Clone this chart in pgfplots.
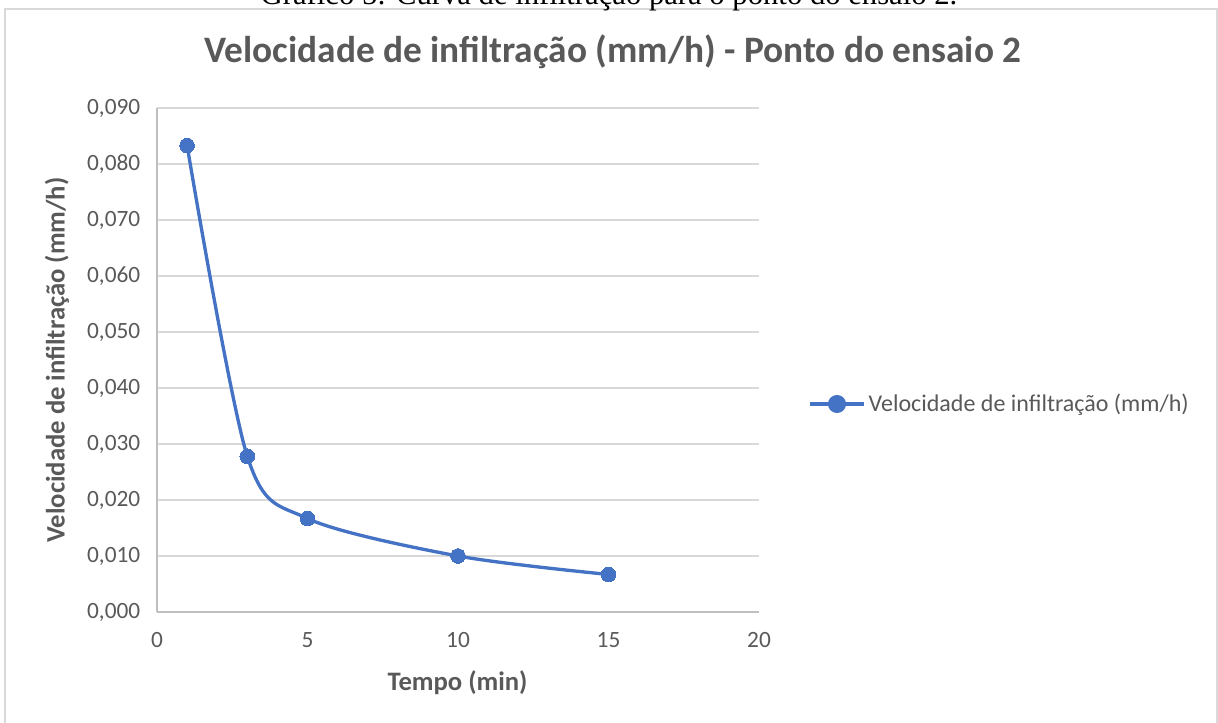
\documentclass[border=0pt]{standalone}
\usepackage{fontspec}
\setmainfont{Carlito}
\newfontfamily\timesfont{Liberation Serif}
\usepackage{pgfplots}
\pgfplotsset{compat=1.18}
\definecolor{txt}{RGB}{89,89,89}
\definecolor{ser}{RGB}{68,114,196}
\definecolor{gridc}{RGB}{217,217,217}
\definecolor{axc}{RGB}{191,191,191}
\definecolor{framec}{RGB}{217,217,217}
\begin{document}
\begin{tikzpicture}
\useasboundingbox (-117.75pt,-82.5pt) rectangle (795.75pt,459pt);
\draw[framec, line width=1.5pt] (-114pt,-100pt) -- (-114pt,452.25pt) -- (795pt,452.25pt) -- (795pt,-100pt);
\node[font=\timesfont\fontsize{23}{27}\selectfont, anchor=base, inner sep=0pt] at (339pt,455.25pt) {Gráfico 5: Curva de infiltração para o ponto do ensaio 2.};
\node[font=\bfseries\fontsize{28}{32}\selectfont, text=txt] at (342pt,420pt) {Velocidade de infiltração (mm/h) - Ponto do ensaio 2};
\begin{axis}[
  at={(0pt,0pt)}, anchor=south west, scale only axis,
  width=451.5pt, height=378pt,
  xmin=0, xmax=20, ymin=0, ymax=0.09,
  xtick={0,5,10,15,20},
  ytick={0,0.01,0.02,0.03,0.04,0.05,0.06,0.07,0.08,0.09},
  axis x line*=bottom, axis y line*=left,
  axis line style={axc, line width=1pt, -},
  major tick length=0pt,
  ymajorgrids, grid style={gridc, line width=1pt},
  tick label style={font=\fontsize{17.5}{21}\selectfont, text=txt},
  xticklabel style={yshift=-12pt},
  yticklabel style={xshift=-9pt},
  /pgf/number format/assume math mode=true,
  yticklabel style={/pgf/number format/.cd, fixed, fixed zerofill, precision=3, use comma},
  xticklabel style={/pgf/number format/.cd, fixed, precision=0},
  scaled y ticks=false,
  clip=false,
  legend style={at={(rel axis cs:1.081,0.4127)}, anchor=west, draw=none, fill=none,
    font=\fontsize{18}{21}\selectfont, text=txt, inner sep=0pt},
  legend cell align=left,
  legend image code/.code={\draw[ser, line width=2.5pt] (0pt,0pt) -- (41pt,0pt); \fill[ser] (20.5pt,0pt) circle (5.5pt);},
]
\addplot[ser, line width=2.5pt, smooth, tension=0.5, mark=*, mark size=5.5pt, mark options={fill=ser, draw=ser, line width=0pt}] coordinates {
 (1,0.0833) (3,0.0278) (5,0.0167) (10,0.0100) (15,0.0067)
};
\addlegendentry{Velocidade de infiltração (mm/h)}
\end{axis}
\node[font=\bfseries\fontsize{20}{24}\selectfont, text=txt, rotate=90] at (-75pt,189pt) {Velocidade de infiltração (mm/h)};
\node[font=\bfseries\fontsize{20}{24}\selectfont, text=txt] at (225.4pt,-53.25pt) {Tempo (min)};
\end{tikzpicture}
\end{document}
